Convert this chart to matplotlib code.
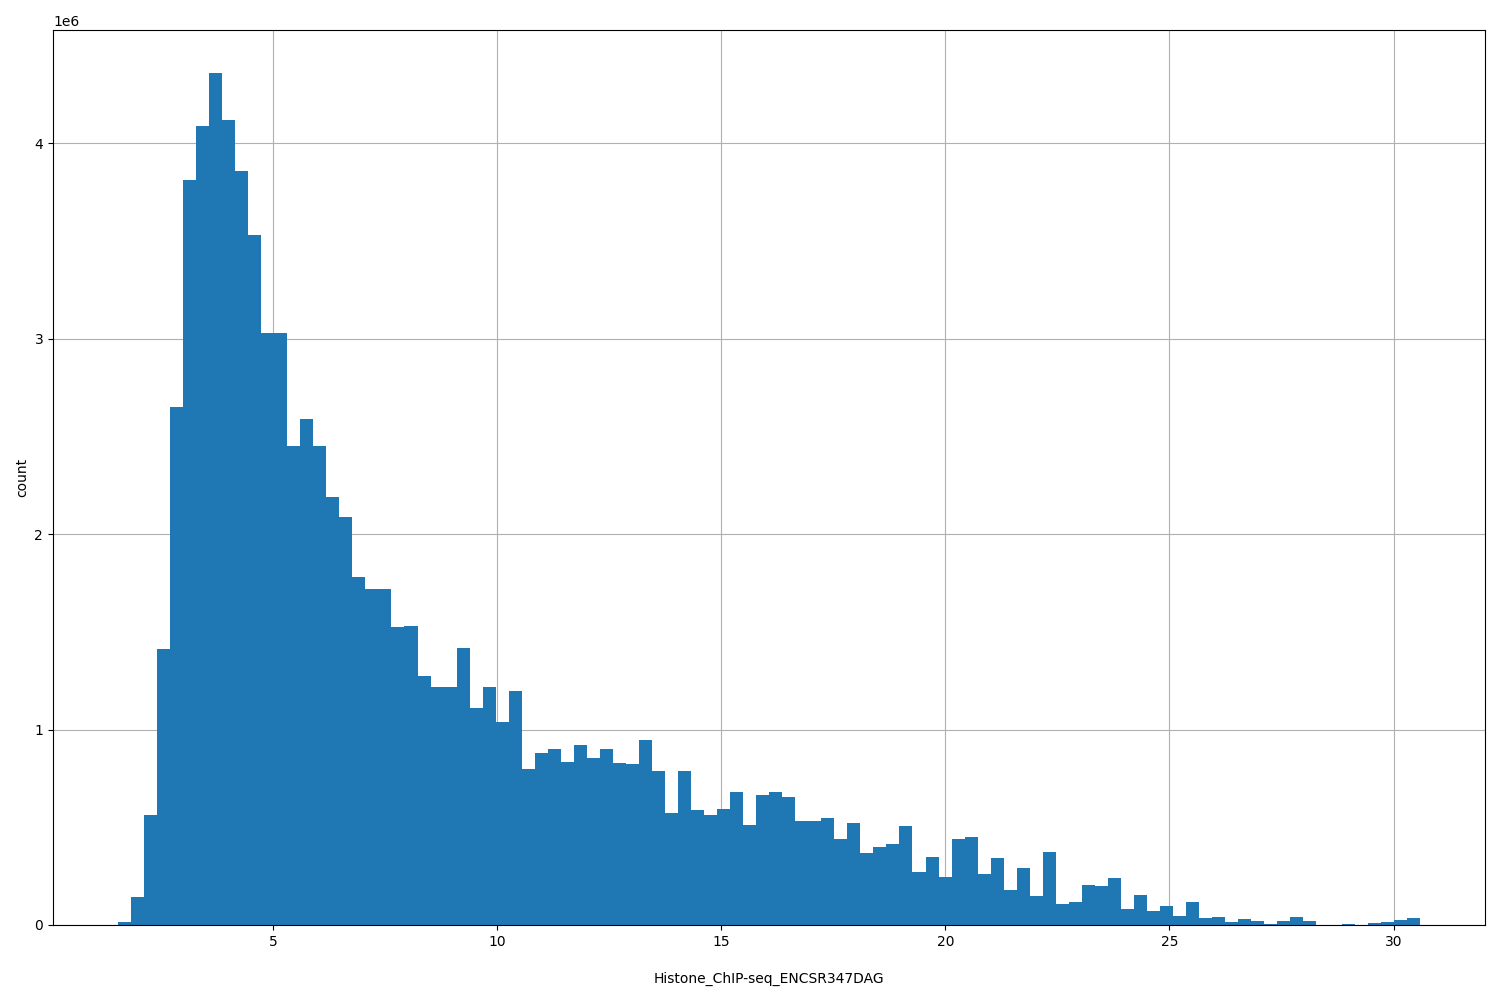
import numpy as np
import matplotlib
matplotlib.use("Agg")
import matplotlib.pyplot as plt

# histogram range and bin counts (millions)
x_min = 1.54
x_max = 30.6
counts_m = [
    0.015, 0.145, 0.565, 1.41, 2.65, 3.81, 4.09, 4.36, 4.12, 3.86,
    3.53, 3.03, 3.03, 2.45, 2.59, 2.45, 2.19, 2.09, 1.78, 1.72,
    1.72, 1.525, 1.53, 1.275, 1.22, 1.22, 1.42, 1.11, 1.22, 1.04,
    1.20, 0.80, 0.88, 0.90, 0.835, 0.92, 0.855, 0.90, 0.83, 0.825,
    0.945, 0.79, 0.575, 0.79, 0.59, 0.565, 0.595, 0.68, 0.51, 0.665,
    0.68, 0.655, 0.53, 0.53, 0.55, 0.44, 0.52, 0.37, 0.40, 0.415,
    0.505, 0.27, 0.35, 0.245, 0.44, 0.45, 0.26, 0.345, 0.18, 0.29,
    0.15, 0.375, 0.11, 0.12, 0.205, 0.20, 0.24, 0.08, 0.155, 0.07,
    0.095, 0.045, 0.12, 0.035, 0.04, 0.015, 0.03, 0.02, 0.005, 0.02,
    0.04, 0.02, 0.0, 0.0, 0.005, 0.0, 0.01, 0.015, 0.025, 0.035,
]
counts = np.array(counts_m) * 1e6
edges = np.linspace(x_min, x_max, len(counts) + 1)
centers = (edges[:-1] + edges[1:]) / 2

fig = plt.figure(figsize=(15, 10), dpi=100)
ax = fig.add_axes([0.0353, 0.075, 0.955, 0.895])
ax.hist(centers, bins=edges, weights=counts, color="#1f77b4", zorder=2)
ax.grid(True, zorder=0)
ax.set_axisbelow(True)
ax.set_xlabel("Histone_ChIP-seq_ENCSR347DAG", labelpad=17)
ax.set_ylabel("count")
ax.set_xlim(0.09, 32.05)
ax.set_ylim(0, 4.58e6)
fig.savefig("out.png")
